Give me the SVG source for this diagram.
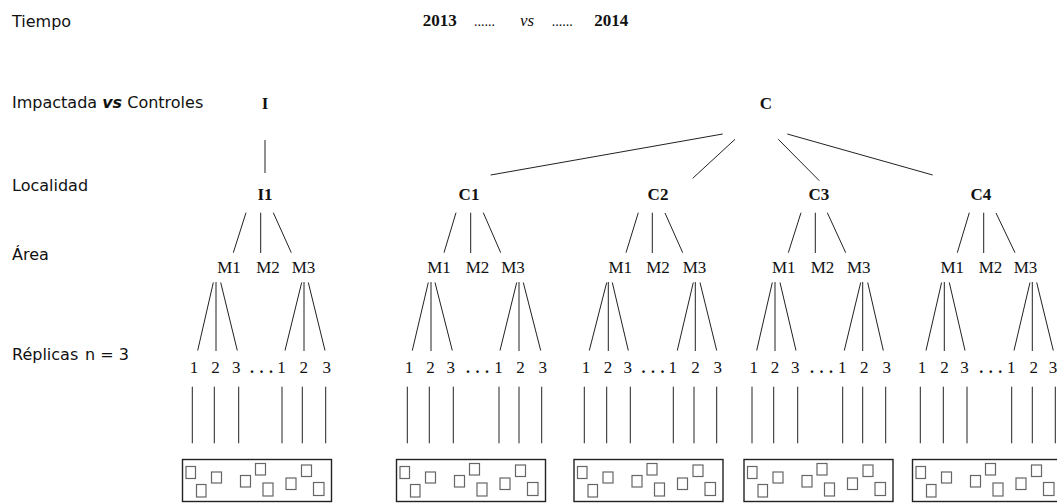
<svg xmlns="http://www.w3.org/2000/svg" xmlns:xlink="http://www.w3.org/1999/xlink" width="1057" height="503" viewBox="0 0 1057 503">
  <style>
    .ax { font-family: "DejaVu Sans", "Liberation Sans", sans-serif; font-size: 16px; fill: #111; }
    .serif { font-family: "Liberation Serif", "Times New Roman", serif; fill: #111; }
    .yr { font-size: 17px; font-weight: bold; }
    .dots { font-size: 14px; }
    .top { font-size: 17px; font-weight: bold; text-anchor: middle; }
    .loc { font-size: 17px; font-weight: bold; text-anchor: middle; }
    .m { font-size: 17px; text-anchor: middle; }
    .rep { font-size: 17px; text-anchor: middle; }
    .ell { font-size: 16px; font-weight: bold; letter-spacing: 5.5px; text-anchor: middle; }
    .ln line { stroke: #222; stroke-width: 1; }
    .frame { fill: #fff; stroke: #222; stroke-width: 1.4; }
    .sq { fill: none; stroke: #666; stroke-width: 1.2; }
  </style>
  <defs>
    <!-- sample tray: frame with nine scattered quadrats -->
    <g id="tray">
      <rect class="frame" x="0" y="0" width="149" height="42"/>
      <rect class="sq" x="3.5" y="7" width="9.5" height="12"/>
      <rect class="sq" x="14" y="25" width="9.5" height="12.5"/>
      <rect class="sq" x="29" y="12.5" width="10" height="11"/>
      <rect class="sq" x="58" y="16" width="10" height="11.5"/>
      <rect class="sq" x="73" y="4" width="10" height="11.5"/>
      <rect class="sq" x="80.5" y="23.5" width="10" height="13"/>
      <rect class="sq" x="103.5" y="18.5" width="10" height="11.5"/>
      <rect class="sq" x="119" y="5.5" width="10" height="11.5"/>
      <rect class="sq" x="131" y="23" width="10.5" height="13"/>
    </g>
  </defs>

  <rect width="1057" height="503" fill="#fff"/>

  <!-- level captions -->
  <g id="captions" class="ax">
    <text x="12" y="27">Tiempo</text>
    <text x="12" y="108">Impactada <tspan font-style="italic" font-weight="bold">vs</tspan> Controles</text>
    <text x="12" y="191">Localidad</text>
    <text x="12" y="260">Área</text>
    <text x="12" y="360">Réplicas<tspan x="85">n = 3</tspan></text>
  </g>

  <!-- sampling period -->
  <g id="period" class="serif">
    <text class="yr" x="422.7" y="26">2013</text>
    <text class="dots" x="474" y="26">......</text>
    <text x="520" y="26" font-size="17" font-style="italic">vs</text>
    <text class="dots" x="551.7" y="26">......</text>
    <text class="yr" x="594.3" y="26">2014</text>
  </g>

  <!-- connectors -->
  <g id="connectors" class="ln">
    <!-- impacted / control to localities -->
    <line x1="265" y1="140" x2="265" y2="173"/>
    <line x1="722.7" y1="134" x2="490.7" y2="175"/>
    <line x1="735" y1="139.3" x2="692.7" y2="178.3"/>
    <line x1="778.3" y1="139.3" x2="819.3" y2="180.7"/>
    <line x1="787.3" y1="134" x2="932.7" y2="175"/>

    <!-- I1 -->
    <line x1="246" y1="212.7" x2="233.3" y2="252.7"/>
    <line x1="260.7" y1="212.7" x2="260.7" y2="253"/>
    <line x1="273.3" y1="212.7" x2="291.3" y2="252.7"/>
    <line x1="213.3" y1="282.5" x2="197.7" y2="350.5"/>
    <line x1="216" y1="282" x2="216" y2="351"/>
    <line x1="220.7" y1="282.5" x2="237.3" y2="350.5"/>
    <line x1="301.7" y1="282.5" x2="285" y2="350.5"/>
    <line x1="304" y1="282" x2="304" y2="351"/>
    <line x1="308.3" y1="282.5" x2="325" y2="350.5"/>
    <line x1="192.3" y1="386.7" x2="192.3" y2="443.3"/>
    <line x1="214.3" y1="386.7" x2="214.3" y2="443.3"/>
    <line x1="238.7" y1="386.7" x2="238.7" y2="443.3"/>
    <line x1="282" y1="386.7" x2="282" y2="443.3"/>
    <line x1="302.3" y1="386.7" x2="302.3" y2="443.3"/>
    <line x1="325.7" y1="386.7" x2="325.7" y2="443.3"/>

    <!-- C1 -->
    <line x1="456" y1="212.7" x2="444" y2="252.7"/>
    <line x1="470.7" y1="212.7" x2="470.7" y2="253"/>
    <line x1="483.3" y1="212.7" x2="500.7" y2="252.7"/>
    <line x1="428.3" y1="282.5" x2="412.3" y2="350.5"/>
    <line x1="431" y1="282" x2="431" y2="351"/>
    <line x1="435" y1="282.5" x2="452.3" y2="350.5"/>
    <line x1="516.7" y1="282.5" x2="500" y2="350.5"/>
    <line x1="519" y1="282" x2="519" y2="351"/>
    <line x1="523.3" y1="282.5" x2="540.7" y2="350.5"/>
    <line x1="407.3" y1="386.7" x2="407.3" y2="443.3"/>
    <line x1="429.3" y1="386.7" x2="429.3" y2="443.3"/>
    <line x1="453.3" y1="386.7" x2="453.3" y2="443.3"/>
    <line x1="499" y1="386.7" x2="499" y2="443.3"/>
    <line x1="519" y1="386.7" x2="519" y2="443.3"/>
    <line x1="541.7" y1="386.7" x2="541.7" y2="443.3"/>

    <!-- C2 -->
    <line x1="638.3" y1="212.7" x2="626" y2="252.7"/>
    <line x1="652.3" y1="212.7" x2="652.3" y2="253"/>
    <line x1="665" y1="213" x2="682.7" y2="252.7"/>
    <line x1="606.7" y1="282.5" x2="589.3" y2="350.5"/>
    <line x1="608.3" y1="282" x2="608.3" y2="351"/>
    <line x1="612.3" y1="282.5" x2="628.3" y2="350.5"/>
    <line x1="693.3" y1="282.5" x2="677.3" y2="350.5"/>
    <line x1="695.3" y1="282" x2="695.3" y2="351"/>
    <line x1="700" y1="282.5" x2="716.7" y2="350.5"/>
    <line x1="584.3" y1="386.7" x2="584.3" y2="443.3"/>
    <line x1="606.7" y1="386.7" x2="606.7" y2="443.3"/>
    <line x1="630.3" y1="386.7" x2="630.3" y2="443.3"/>
    <line x1="673.3" y1="386.7" x2="673.3" y2="443.3"/>
    <line x1="694" y1="386.7" x2="694" y2="443.3"/>
    <line x1="716.7" y1="386.7" x2="716.7" y2="443.3"/>

    <!-- C3 -->
    <line x1="801" y1="212.7" x2="788.3" y2="252.7"/>
    <line x1="815.3" y1="212.7" x2="815.3" y2="253"/>
    <line x1="827.3" y1="212.7" x2="845.7" y2="252.7"/>
    <line x1="772.3" y1="282.5" x2="756.7" y2="350.5"/>
    <line x1="775" y1="282" x2="775" y2="351"/>
    <line x1="780" y1="282.5" x2="796" y2="350.5"/>
    <line x1="860.7" y1="282.5" x2="844.3" y2="350.5"/>
    <line x1="862.7" y1="282" x2="862.7" y2="351"/>
    <line x1="867.7" y1="282.5" x2="883.3" y2="350.5"/>
    <line x1="752" y1="386.7" x2="752" y2="443.3"/>
    <line x1="773.7" y1="386.7" x2="773.7" y2="443.3"/>
    <line x1="797.7" y1="386.7" x2="797.7" y2="443.3"/>
    <line x1="842.7" y1="386.7" x2="842.7" y2="443.3"/>
    <line x1="862.7" y1="386.7" x2="862.7" y2="443.3"/>
    <line x1="885.7" y1="386.7" x2="885.7" y2="443.3"/>

    <!-- C4 -->
    <line x1="969.3" y1="212.7" x2="957.3" y2="252.7"/>
    <line x1="983.7" y1="212.7" x2="983.7" y2="253"/>
    <line x1="996" y1="213" x2="1015" y2="252.7"/>
    <line x1="941.6" y1="282.5" x2="926" y2="350.5"/>
    <line x1="944.3" y1="282" x2="944.3" y2="351"/>
    <line x1="949.3" y1="282.5" x2="965" y2="350.5"/>
    <line x1="1030" y1="282.5" x2="1014" y2="350.5"/>
    <line x1="1032.3" y1="282" x2="1032.3" y2="351"/>
    <line x1="1036.7" y1="282.5" x2="1053.3" y2="350.5"/>
    <line x1="920.3" y1="386.7" x2="920.3" y2="443.3"/>
    <line x1="943.3" y1="386.7" x2="943.3" y2="443.3"/>
    <line x1="967" y1="386.7" x2="967" y2="443.3"/>
    <line x1="1011.7" y1="386.7" x2="1011.7" y2="443.3"/>
    <line x1="1032.3" y1="386.7" x2="1032.3" y2="443.3"/>
    <line x1="1055.3" y1="386.7" x2="1055.3" y2="443.3"/>
  </g>

  <!-- treatment nodes -->
  <g id="node-I" class="serif"><text class="top" x="265" y="109">I</text></g>
  <g id="node-C" class="serif"><text class="top" x="766" y="109">C</text></g>

  <!-- locality I1 -->
  <g id="node-I1" class="serif">
    <text class="loc" x="265" y="200">I1</text>
    <text class="m" x="229" y="273">M1</text>
    <text class="m" x="268" y="273">M2</text>
    <text class="m" x="303.5" y="273">M3</text>
    <text class="rep" x="194" y="373">1</text>
    <text class="rep" x="215.6" y="373">2</text>
    <text class="rep" x="236.2" y="373">3</text>
    <text class="ell" x="264.3" y="373">...</text>
    <text class="rep" x="281.5" y="373">1</text>
    <text class="rep" x="303.8" y="373">2</text>
    <text class="rep" x="326.7" y="373">3</text>
    <use href="#tray" xlink:href="#tray" x="182.5" y="459.5"/>
  </g>

  <!-- locality C1 -->
  <g id="node-C1" class="serif">
    <text class="loc" x="469" y="200">C1</text>
    <text class="m" x="439" y="273">M1</text>
    <text class="m" x="477.5" y="273">M2</text>
    <text class="m" x="513" y="273">M3</text>
    <text class="rep" x="409" y="373">1</text>
    <text class="rep" x="430.6" y="373">2</text>
    <text class="rep" x="450.8" y="373">3</text>
    <text class="ell" x="480.2" y="373">...</text>
    <text class="rep" x="498.5" y="373">1</text>
    <text class="rep" x="520.5" y="373">2</text>
    <text class="rep" x="542.7" y="373">3</text>
    <use href="#tray" xlink:href="#tray" x="396.5" y="459.5"/>
  </g>

  <!-- locality C2 -->
  <g id="node-C2" class="serif">
    <text class="loc" x="658" y="200">C2</text>
    <text class="m" x="620.3" y="273">M1</text>
    <text class="m" x="658" y="273">M2</text>
    <text class="m" x="694.5" y="273">M3</text>
    <text class="rep" x="586" y="373">1</text>
    <text class="rep" x="608" y="373">2</text>
    <text class="rep" x="627.8" y="373">3</text>
    <text class="ell" x="655.8" y="373">...</text>
    <text class="rep" x="672.8" y="373">1</text>
    <text class="rep" x="695.5" y="373">2</text>
    <text class="rep" x="717.7" y="373">3</text>
    <use href="#tray" xlink:href="#tray" x="574" y="459.5"/>
  </g>

  <!-- locality C3 -->
  <g id="node-C3" class="serif">
    <text class="loc" x="818.8" y="200">C3</text>
    <text class="m" x="783.7" y="273">M1</text>
    <text class="m" x="822.5" y="273">M2</text>
    <text class="m" x="858.7" y="273">M3</text>
    <text class="rep" x="753.7" y="373">1</text>
    <text class="rep" x="775" y="373">2</text>
    <text class="rep" x="795.2" y="373">3</text>
    <text class="ell" x="824.2" y="373">...</text>
    <text class="rep" x="842.2" y="373">1</text>
    <text class="rep" x="864.2" y="373">2</text>
    <text class="rep" x="886.7" y="373">3</text>
    <use href="#tray" xlink:href="#tray" x="744" y="459.5"/>
  </g>

  <!-- locality C4 -->
  <g id="node-C4" class="serif">
    <text class="loc" x="980.8" y="200">C4</text>
    <text class="m" x="952.2" y="273">M1</text>
    <text class="m" x="990.5" y="273">M2</text>
    <text class="m" x="1025.5" y="273">M3</text>
    <text class="rep" x="922" y="373">1</text>
    <text class="rep" x="944.6" y="373">2</text>
    <text class="rep" x="964.5" y="373">3</text>
    <text class="ell" x="993.4" y="373">...</text>
    <text class="rep" x="1011.2" y="373">1</text>
    <text class="rep" x="1033.8" y="373">2</text>
    <text class="rep" x="1053" y="373">3</text>
    <use href="#tray" xlink:href="#tray" x="912.5" y="459.5"/>
  </g>
</svg>
